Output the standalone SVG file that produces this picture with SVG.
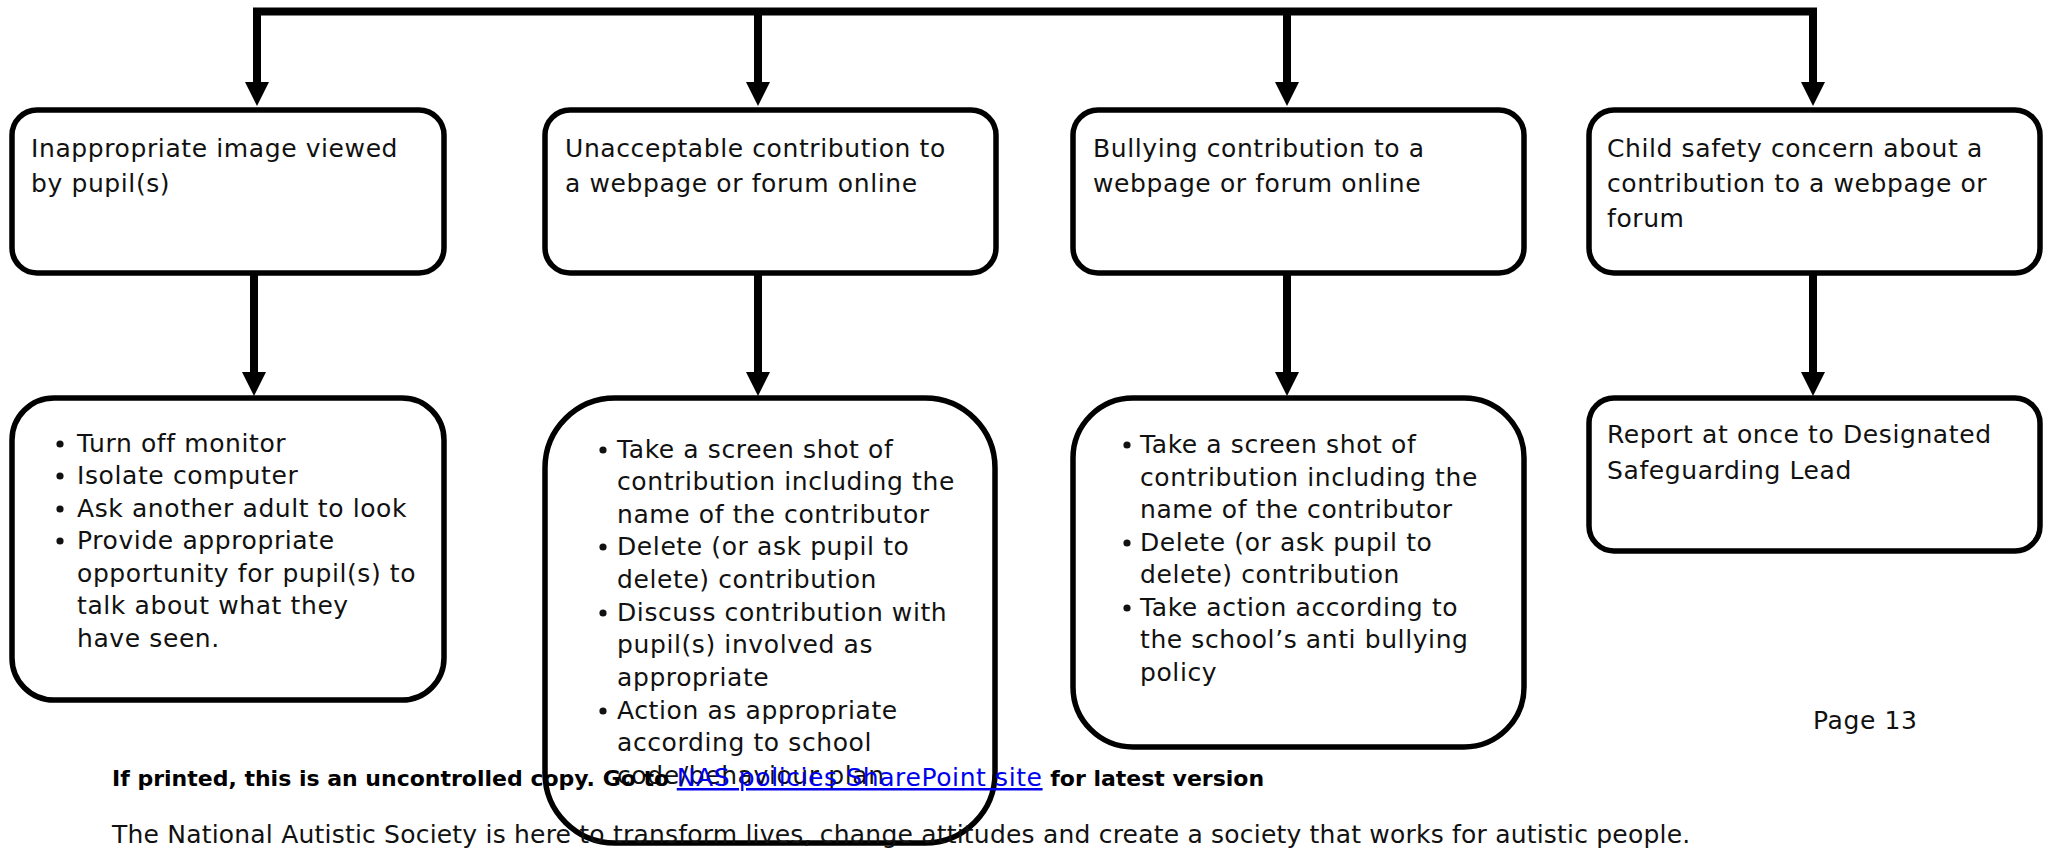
<svg xmlns="http://www.w3.org/2000/svg" width="2049" height="848" viewBox="0 0 2049 848">
<style>
.box{fill:#fff;stroke:#000;stroke-width:5.5}
.t{font-family:"DejaVu Sans","Liberation Sans",sans-serif;font-size:25px;letter-spacing:0.6px;fill:#111}
.fb{font-family:"DejaVu Sans","Liberation Sans",sans-serif;font-size:22px;font-weight:bold;fill:#000}
.fr{font-family:"DejaVu Sans","Liberation Sans",sans-serif;font-size:25px;letter-spacing:0.2px;fill:#111}
.lnk{fill:#0000ee;font-weight:normal;font-size:25px;letter-spacing:0.6px;text-decoration:underline}
.c{fill:none;stroke:#000;stroke-width:8;stroke-linejoin:miter;stroke-linecap:butt}
.ah{fill:#000}
.b{fill:#111}
</style>
<rect width="2049" height="848" fill="#fff"/>
<g id="connectors">
<path class="c" d="M257,84 V11.5 H1813 V84"/>
<path class="c" d="M758,11.5 V84"/>
<path class="c" d="M1287,11.5 V84"/>
<polygon class="ah" points="245,82 269,82 257,106"/>
<polygon class="ah" points="746,82 770,82 758,106"/>
<polygon class="ah" points="1275,82 1299,82 1287,106"/>
<polygon class="ah" points="1801,82 1825,82 1813,106"/>
<path class="c" d="M254,273 V374"/>
<path class="c" d="M758,273 V374"/>
<path class="c" d="M1287,273 V374"/>
<path class="c" d="M1813,273 V374"/>
<polygon class="ah" points="242,372 266,372 254,396"/>
<polygon class="ah" points="746,372 770,372 758,396"/>
<polygon class="ah" points="1275,372 1299,372 1287,396"/>
<polygon class="ah" points="1801,372 1825,372 1813,396"/>
</g>
<g id="n1">
<rect class="box" x="12" y="110" width="432" height="163" rx="25"/>
<text class="t" x="31" y="157">Inappropriate image viewed</text>
<text class="t" x="31" y="192">by pupil(s)</text>
</g>
<g id="n2">
<rect class="box" x="545" y="110" width="451" height="163" rx="25"/>
<text class="t" x="565" y="157">Unacceptable contribution to</text>
<text class="t" x="565" y="192">a webpage or forum online</text>
</g>
<g id="n3">
<rect class="box" x="1073" y="110" width="451" height="163" rx="25"/>
<text class="t" x="1093" y="157">Bullying contribution to a</text>
<text class="t" x="1093" y="192">webpage or forum online</text>
</g>
<g id="n4">
<rect class="box" x="1589" y="110" width="451" height="163" rx="25"/>
<text class="t" x="1607" y="157">Child safety concern about a</text>
<text class="t" x="1607" y="192">contribution to a webpage or</text>
<text class="t" x="1607" y="227">forum</text>
</g>
<g id="n5">
<rect class="box" x="12" y="398" width="432" height="302" rx="42"/>
<circle class="b" cx="60" cy="444" r="3.6"/>
<circle class="b" cx="60" cy="476" r="3.6"/>
<circle class="b" cx="60" cy="509" r="3.6"/>
<circle class="b" cx="60" cy="541" r="3.6"/>
<text class="t" x="77" y="452">Turn off monitor</text>
<text class="t" x="77" y="484">Isolate computer</text>
<text class="t" x="77" y="517">Ask another adult to look</text>
<text class="t" x="77" y="549">Provide appropriate</text>
<text class="t" x="77" y="582">opportunity for pupil(s) to</text>
<text class="t" x="77" y="614">talk about what they</text>
<text class="t" x="77" y="647">have seen.</text>
</g>
<g id="n6">
<rect class="box" x="545" y="398" width="450" height="445" rx="70"/>
<circle class="b" cx="603" cy="450" r="3.6"/>
<circle class="b" cx="603" cy="547" r="3.6"/>
<circle class="b" cx="603" cy="613" r="3.6"/>
<circle class="b" cx="603" cy="711" r="3.6"/>
<text class="t" x="617" y="458">Take a screen shot of</text>
<text class="t" x="617" y="490">contribution including the</text>
<text class="t" x="617" y="523">name of the contributor</text>
<text class="t" x="617" y="555">Delete (or ask pupil to</text>
<text class="t" x="617" y="588">delete) contribution</text>
<text class="t" x="617" y="621">Discuss contribution with</text>
<text class="t" x="617" y="653">pupil(s) involved as</text>
<text class="t" x="617" y="686">appropriate</text>
<text class="t" x="617" y="719">Action as appropriate</text>
<text class="t" x="617" y="751">according to school</text>
<text class="t" x="617" y="784">code/behaviour plan</text>
</g>
<g id="n7">
<rect class="box" x="1073" y="398" width="451" height="349" rx="60"/>
<circle class="b" cx="1127" cy="445" r="3.6"/>
<circle class="b" cx="1127" cy="543" r="3.6"/>
<circle class="b" cx="1127" cy="608" r="3.6"/>
<text class="t" x="1140" y="453">Take a screen shot of</text>
<text class="t" x="1140" y="486">contribution including the</text>
<text class="t" x="1140" y="518">name of the contributor</text>
<text class="t" x="1140" y="551">Delete (or ask pupil to</text>
<text class="t" x="1140" y="583">delete) contribution</text>
<text class="t" x="1140" y="616">Take action according to</text>
<text class="t" x="1140" y="648">the school’s anti bullying</text>
<text class="t" x="1140" y="681">policy</text>
</g>
<g id="n8">
<rect class="box" x="1589" y="398" width="451" height="153" rx="25"/>
<text class="t" x="1607" y="443">Report at once to Designated</text>
<text class="t" x="1607" y="479">Safeguarding Lead</text>
</g>
<g id="footer">
<text class="t" x="1813" y="729">Page 13</text>
<text class="fb" x="112" y="786">If printed, this is an uncontrolled copy. Go to <tspan class="lnk">NAS policies SharePoint site</tspan> for latest version</text>
<text class="fr" x="112" y="843">The National Autistic Society is here to transform lives, change attitudes and create a society that works for autistic people.</text>
</g>
</svg>
